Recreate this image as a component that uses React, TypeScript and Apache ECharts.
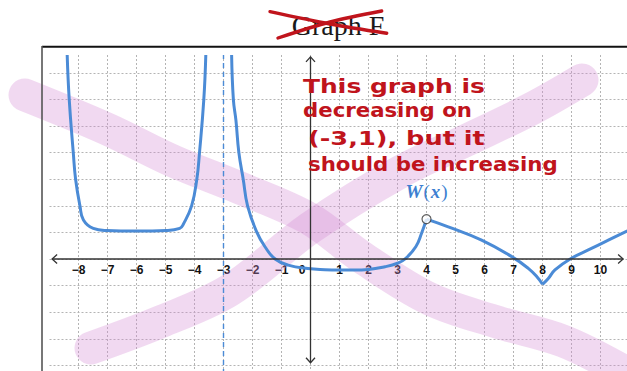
import React, { useEffect, useRef } from "react";
import * as echarts from "echarts";

// ---- W(x) in branches (x, y) ----
const branchU: number[][] = [
  [-8.39, 7.67], [-8.32, 6.0], [-8.18, 4.0], [-8.1, 3.0], [-7.95, 2.0], [-7.83, 1.47],
  [-7.49, 1.15], [-7.03, 1.07], [-6.0, 1.05], [-4.97, 1.07], [-4.51, 1.15], [-4.39, 1.3],
  [-4.1, 2.0], [-3.92, 3.0], [-3.83, 3.97], [-3.68, 5.98], [-3.61, 7.67],
];
const branchMid: number[][] = [
  [-2.72, 7.67], [-2.66, 6.0], [-2.57, 5.2], [-2.47, 4.0], [-2.32, 3.0], [-2.17, 2.0],
  [-1.86, 1.03], [-1.57, 0.46], [-1.22, 0.0], [-0.77, -0.23], [-0.09, -0.36], [0.5, -0.4],
  [1.0, -0.41], [1.5, -0.41], [2.0, -0.39], [2.57, -0.29], [3.0, -0.16], [3.26, 0.0],
  [3.63, 0.46], [3.83, 0.97], [4.0, 1.5],
];
const branchRightA: number[][] = [
  [4.0, 1.5], [4.75, 1.21], [5.9, 0.71], [6.94, 0.09], [7.51, -0.35], [7.8, -0.66], [8.0, -0.95],
];
const branchRightB: number[][] = [
  [8.0, -0.95], [8.2, -0.73], [8.43, -0.41], [9.0, 0.03], [9.58, 0.34], [10.27, 0.71], [10.93, 1.06],
];
const openPoints: number[][] = [[4.0, 1.5]];
const asymptoteX = -3;

const xTickLabels = [-8, -7, -6, -5, -4, -3, -2, -1, 0, 1, 2, 3, 4, 5, 6, 7, 8, 9, 10];

const titleText = "Graph F";
const noteLines = ["This graph is", "decreasing on", "(-3,1), but it", "should be increasing"];

export default function App() {
  const ref = useRef<HTMLDivElement>(null);

  useEffect(() => {
    const el = ref.current!;
    const chart = echarts.init(el, null, { renderer: "svg" });

    const blue = "#4b8bd6";
    const red = "#c0141c";
    const axisInk = "#333";
    const gridLine = { color: "#b4b4b4", type: [2, 2] as number[], width: 1 };

    // plot box: x -9..11 over 580px, y -5..7.67 over 337px
    const gridTop = 55;
    const yMin = -5;
    const yMax = 7.67;
    const gridBottom = -21;
    const plotH = 371 - gridTop - gridBottom;
    const zeroOffset = -(plotH * (0 - yMin)) / (yMax - yMin);

    const curve = (data: number[][], extra: any = {}) => ({
      type: "line",
      data,
      symbol: "none",
      showSymbol: false,
      smooth: 0.45,
      clip: true,
      silent: true,
      z: 3,
      lineStyle: { color: blue, width: 3 },
      ...extra,
    });

    chart.setOption({
      animation: false,
      grid: { left: 49.5, right: -2.5, top: gridTop, bottom: gridBottom, containLabel: false, outerBoundsMode: "none" },
      xAxis: {
        type: "value",
        min: -9,
        max: 11,
        interval: 1,
        position: "bottom",
        offset: zeroOffset,
        axisLine: { show: false, onZero: false },
        axisTick: { show: false },
        axisLabel: {
          margin: 5,
          fontSize: 12,
          fontWeight: "bold",
          fontFamily: "Liberation Sans",
          color: "#111",
          showMinLabel: true,
          showMaxLabel: true,
          hideOverlap: false,
          formatter: (v: number) => {
            if (!xTickLabels.includes(v)) return "";
            if (v === 0) return "{z|0}";
            return v < 0 ? "\u2212" + Math.abs(v) : String(v);
          },
          rich: {
            z: { padding: [0, 17, 0, 0], fontSize: 12, fontWeight: "bold", fontFamily: "Liberation Sans", color: "#111" },
          },
        },
        splitLine: { show: true, showMinLine: false, showMaxLine: false, lineStyle: gridLine },
      },
      yAxis: {
        type: "value",
        min: yMin,
        max: yMax,
        interval: 1,
        axisLine: { show: false, onZero: false },
        axisTick: { show: false },
        axisLabel: { show: false },
        splitLine: { show: true, showMinLine: false, showMaxLine: false, lineStyle: gridLine },
      },
      series: [
        curve(branchU),
        curve(branchMid, {
          markLine: {
            silent: true,
            symbol: "none",
            label: { show: false },
            lineStyle: { color: blue, type: [5, 4], width: 1.4 },
            data: [{ xAxis: asymptoteX }],
          },
        }),
        curve(branchRightA),
        curve(branchRightB),
        {
          type: "scatter",
          data: openPoints,
          symbol: "circle",
          symbolSize: 9,
          z: 5,
          silent: true,
          itemStyle: { color: "#ffffff", borderColor: "#3a3a3a", borderWidth: 1.2 },
        },
      ],
    });

    const px = (x: number, y: number) => chart.convertToPixel({ gridIndex: 0 }, [x, y]) as number[];

    // axes with open chevron heads
    const [xl, y0] = px(-8.91, 0);
    const [xr] = px(10.78, 0);
    const [x0, yt] = px(0, 7.6);
    const [, yb] = px(0, -3.9);
    const axisStyle = { stroke: axisInk, lineWidth: 1.3, fill: "none" };
    const axes = [
      { type: "line", z: 6, shape: { x1: xl, y1: y0, x2: xr, y2: y0 }, style: axisStyle },
      { type: "polyline", z: 6, shape: { points: [[xl + 5, y0 - 4.5], [xl, y0], [xl + 5, y0 + 4.5]] }, style: axisStyle },
      { type: "polyline", z: 6, shape: { points: [[xr - 5, y0 - 4.5], [xr, y0], [xr - 5, y0 + 4.5]] }, style: axisStyle },
      { type: "line", z: 6, shape: { x1: x0, y1: yt, x2: x0, y2: yb }, style: axisStyle },
      { type: "polyline", z: 6, shape: { points: [[x0 - 4.5, yt + 5], [x0, yt], [x0 + 4.5, yt + 5]] }, style: axisStyle },
      { type: "polyline", z: 6, shape: { points: [[x0 - 4.5, yb - 5], [x0, yb], [x0 + 4.5, yb - 5]] }, style: axisStyle },
    ];

    // outer frame of the figure
    const frame = [
      { type: "line", z: 7, shape: { x1: 42, y1: 46.8, x2: 627, y2: 46.8 }, style: { stroke: "#111", lineWidth: 2 } },
      { type: "line", z: 7, shape: { x1: 42, y1: 46, x2: 42, y2: 371 }, style: { stroke: "#555", lineWidth: 1.6 } },
    ];

    // title, crossed out
    const title = [
      {
        type: "text",
        z: 7,
        x: 338,
        y: 25.5,
        style: {
          text: titleText,
          fill: "#1a1a1a",
          fontSize: 28,
          fontFamily: "Liberation Serif",
          textAlign: "center",
          verticalAlign: "middle",
        },
      },
      { type: "polyline", z: 8, shape: { points: [[270, 11.7], [330, 24], [386.7, 33.3]], smooth: 0.3 }, style: { stroke: red, lineWidth: 3.4, lineCap: "round", fill: "none" } },
      { type: "polyline", z: 8, shape: { points: [[278, 38], [330, 22], [381.7, 11]], smooth: 0.3 }, style: { stroke: red, lineWidth: 3.4, lineCap: "round", fill: "none" } },
    ];

    // highlighter strokes
    const pinkStyle = { stroke: "rgba(214,140,214,0.33)", lineWidth: 33, lineCap: "round", lineJoin: "round", fill: "none" };
    const pink = [
      {
        type: "polyline",
        z: 1,
        shape: {
          smooth: 0.35,
          points: [[25, 95], [107, 129], [173, 161], [240, 188], [308, 218], [363, 258], [430, 299], [497, 322], [563, 341], [625, 372]],
        },
        style: pinkStyle,
      },
      {
        type: "polyline",
        z: 1,
        shape: {
          smooth: 0.35,
          points: [[91, 348], [160, 322], [230, 290], [310, 228], [400, 172], [467, 140], [533, 108], [582, 80]],
        },
        style: pinkStyle,
      },
    ];

    // handwritten note, each line stretched to its written width
    const ctx = document.createElement("canvas").getContext("2d")!;
    const noteFamily = "DejaVu Sans";
    const noteSize = 19;
    ctx.font = `bold ${noteSize}px '${noteFamily}'`;
    const noteBox = [
      { left: 303, right: 485, base: 93 },
      { left: 303, right: 472, base: 117 },
      { left: 308, right: 485, base: 145 },
      { left: 308, right: 558, base: 171 },
    ];
    const notes = noteLines.map((t, i) => {
      const b = noteBox[i];
      const w = ctx.measureText(t).width || 1;
      return {
        type: "text",
        z: 9,
        x: b.left,
        y: b.base - 6.5,
        scaleX: (b.right - b.left) / w,
        style: {
          text: t,
          fill: red,
          fontSize: noteSize,
          fontWeight: "bold",
          fontFamily: noteFamily,
          textAlign: "left",
          verticalAlign: "middle",
        },
      };
    });

    // curve name
    const [lx, ly] = px(4.02, 2.52);
    const nameLabel = {
      type: "text",
      z: 9,
      x: lx,
      y: ly,
      style: {
        text: "{i|W}{u|(}{i|x}{u|)}",
        textAlign: "center",
        verticalAlign: "middle",
        fill: "#3d7fd1",
        rich: {
          i: { fontFamily: "Liberation Serif", fontStyle: "italic", fontWeight: "bold", fontSize: 19, fill: "#3d7fd1" },
          u: { fontFamily: "Liberation Serif", fontSize: 19, fill: "#3d7fd1", padding: [0, 1, 0, 1] },
        },
      },
    };

    chart.setOption({ graphic: [...pink, ...axes, ...frame, ...title, ...notes, nameLabel] });

    return () => chart.dispose();
  }, []);

  return (
    <div
      ref={ref}
      style={{ position: "fixed", left: 0, top: 0, width: 627, height: 371, background: "#ffffff" }}
    />
  );
}
